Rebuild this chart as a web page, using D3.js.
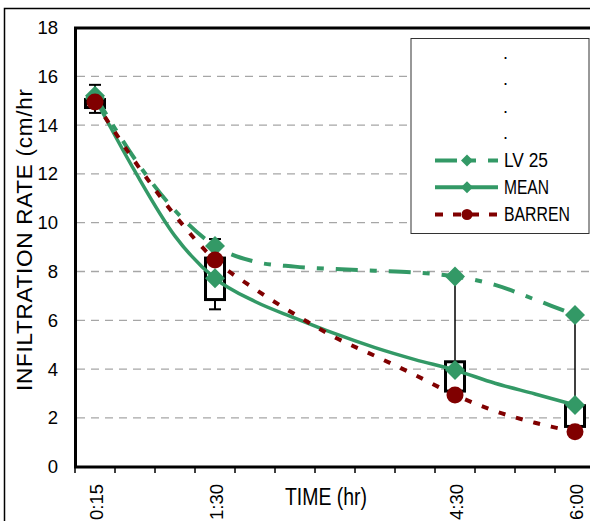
<!DOCTYPE html>
<html lang="en">
<head>
<meta charset="UTF-8">
<title>Infiltration rate</title>
<script src="https://d3js.org/d3.v7.min.js"></script>
<style>
    body { margin: 0; background: #fff; }
    text { font-family: "Liberation Sans", Arial, sans-serif; fill: #000; }
</style>
</head>
<body>
<svg id="chart"></svg>
<script>
    const width = 590;
    const height = 521;

    // categories (half-hour steps, only some are labelled)
    const categories = ["0:15", "", "", "1:30", "", "", "", "", "", "4:30", "", "", "6:00"];
    const lv25 = [15.2, 12.6, 10.5, 9.05, 8.4, 8.2, 8.1, 8.03, 7.96, 7.8, 7.45, 6.85, 6.22];
    const mean = [15.1, 12.1, 9.45, 7.72, 6.77, 6.09, 5.45, 4.88, 4.39, 3.96, 3.42, 2.98, 2.53];
    const barren = [14.95, 12.5, 10.3, 8.47, 7.28, 6.24, 5.3, 4.54, 3.76, 2.94, 2.28, 1.8, 1.43];

    // where markers, boxes and whiskers are drawn
    const markIdx = [0, 3, 9, 12];
    const boxLow = [14.72, 6.85, 3.1, 1.65];
    const boxHigh = [15.05, 8.55, 4.3, 2.5];
    const whiskLow = [14.5, 6.45, 3.1, 1.65];
    const whiskHigh = [15.65, 9.33, 7.8, 6.22];
    const whiskCap = [true, true, false, false];

    const yTicks = [0, 2, 4, 6, 8, 10, 12, 14, 16, 18];
    const seriesNames = ["LV 25", "MEAN", "BARREN"];

    const green = "#339966";
    const red = "#800000";

    const svg = d3.select('#chart')
        .attr('width', width)
        .attr('height', height);

    // outer frame
    svg.append('rect')
        .attr('x', 4.5).attr('y', 8.5)
        .attr('width', 620).attr('height', 600)
        .attr('fill', 'none').attr('stroke', '#000').attr('stroke-width', 1.5);

    const x = d3.scaleBand()
        .domain(d3.range(categories.length))
        .range([75, 595])
        .padding(0);
    const cx = i => x(i) + x.bandwidth() / 2;

    const y = d3.scaleLinear()
        .domain([0, 18])
        .range([466.7, 27.5]);

    // gridlines
    svg.append('g')
        .selectAll('line')
        .data(yTicks.filter(d => d > 0 && d < 18))
        .join('line')
        .attr('x1', 77).attr('x2', 595)
        .attr('y1', d => y(d)).attr('y2', d => y(d))
        .attr('stroke', '#a6a6a6')
        .attr('stroke-width', 1.3)
        .attr('stroke-dasharray', '8,6');

    // y tick labels
    svg.append('g')
        .selectAll('text')
        .data(yTicks)
        .join('text')
        .attr('x', 58)
        .attr('y', d => y(d))
        .attr('text-anchor', 'end')
        .attr('dominant-baseline', 'central')
        .attr('font-size', 18.5)
        .text(d => d);

    // x tick marks at category boundaries
    svg.append('g')
        .selectAll('line')
        .data(d3.range(categories.length + 1))
        .join('line')
        .attr('x1', i => 75 + i * x.bandwidth())
        .attr('x2', i => 75 + i * x.bandwidth())
        .attr('y1', 467).attr('y2', 473)
        .attr('stroke', '#000').attr('stroke-width', 1.5);

    // x tick labels (rotated)
    svg.append('g')
        .selectAll('text')
        .data(d3.range(categories.length).filter(i => categories[i] !== ""))
        .join('text')
        .attr('transform', i => `translate(${cx(i) + 1},484) rotate(-90)`)
        .attr('text-anchor', 'end')
        .attr('dominant-baseline', 'central')
        .attr('font-size', 18.5)
        .text(i => categories[i]);

    // axis titles
    svg.append('text')
        .attr('x', 285).attr('y', 505)
        .attr('font-size', 23)
        .attr('textLength', 82)
        .attr('lengthAdjust', 'spacingAndGlyphs')
        .text('TIME (hr)');

    svg.append('text')
        .attr('transform', 'translate(31.5,240) rotate(-90)')
        .attr('text-anchor', 'middle')
        .attr('font-size', 22.5)
        .attr('textLength', 302)
        .attr('lengthAdjust', 'spacing')
        .text('INFILTRATION RATE (cm/hr');

    // whiskers
    const gw = svg.append('g');
    markIdx.forEach((idx, k) => {
        gw.append('line')
            .attr('x1', cx(idx)).attr('x2', cx(idx))
            .attr('y1', y(whiskHigh[k])).attr('y2', y(whiskLow[k]))
            .attr('stroke', '#000').attr('stroke-width', whiskCap[k] ? 2 : 1.5);
        if (whiskCap[k]) {
            [whiskHigh[k], whiskLow[k]].forEach(v => {
                gw.append('line')
                    .attr('x1', cx(idx) - 6).attr('x2', cx(idx) + 6)
                    .attr('y1', y(v)).attr('y2', y(v))
                    .attr('stroke', '#000').attr('stroke-width', 2);
            });
        }
    });

    // boxes
    svg.append('g')
        .selectAll('rect')
        .data(markIdx)
        .join('rect')
        .attr('x', i => cx(i) - 9.5)
        .attr('width', 19)
        .attr('y', (i, k) => y(boxHigh[k]))
        .attr('height', (i, k) => y(boxLow[k]) - y(boxHigh[k]))
        .attr('fill', '#fff')
        .attr('stroke', '#000')
        .attr('stroke-width', 3);

    // lines
    const line = d3.line()
        .x((d, i) => cx(i))
        .y(d => y(d))
        .curve(d3.curveCatmullRom.alpha(0));

    svg.append('path').datum(lv25)
        .attr('d', line)
        .attr('fill', 'none').attr('stroke', green).attr('stroke-width', 4)
        .attr('stroke-dasharray', '22,12,7,12');

    svg.append('path').datum(mean)
        .attr('d', line)
        .attr('fill', 'none').attr('stroke', green).attr('stroke-width', 3.5);

    svg.append('path').datum(barren)
        .attr('d', line)
        .attr('fill', 'none').attr('stroke', red).attr('stroke-width', 4)
        .attr('stroke-dasharray', '7,11');

    // markers
    const diamond = (px, py, r) => `M${px},${py - r}L${px + r},${py}L${px},${py + r}L${px - r},${py}Z`;

    svg.append('g').selectAll('path')
        .data(markIdx)
        .join('path')
        .attr('d', i => diamond(cx(i), y(lv25[i]), 10))
        .attr('fill', green);

    svg.append('g').selectAll('path')
        .data(markIdx)
        .join('path')
        .attr('d', i => diamond(cx(i), y(mean[i]), 10))
        .attr('fill', green);

    svg.append('g').selectAll('circle')
        .data(markIdx)
        .join('circle')
        .attr('cx', i => cx(i))
        .attr('cy', i => y(barren[i]))
        .attr('r', 8.5)
        .attr('fill', red);

    // plot area border
    svg.append('rect')
        .attr('x', 75.5).attr('y', 28)
        .attr('width', 540).attr('height', 439)
        .attr('fill', 'none').attr('stroke', '#000').attr('stroke-width', 3);

    // legend
    const legend = svg.append('g');
    legend.append('rect')
        .attr('x', 411).attr('y', 38.5)
        .attr('width', 178).attr('height', 195)
        .attr('fill', '#fff').attr('stroke', '#333').attr('stroke-width', 1);

    [56.7, 83.3, 110.7, 137.3].forEach(dy => {
        legend.append('text')
            .attr('x', 503).attr('y', dy + 2)
            .attr('font-size', 18)
            .text('.');
    });

    const legendY = [160.5, 187.3, 214.5];
    const styles = [
        { color: green, dash: '22,12,7,12', mark: 'diamond' },
        { color: green, dash: null, mark: 'diamond' },
        { color: red, dash: '8,10', mark: 'circle' }
    ];
    seriesNames.forEach((name, k) => {
        const ly = legendY[k];
        const st = styles[k];
        legend.append('line')
            .attr('x1', 435).attr('x2', 498)
            .attr('y1', ly).attr('y2', ly)
            .attr('stroke', st.color).attr('stroke-width', 4)
            .attr('stroke-dasharray', st.dash);
        if (st.mark === 'diamond') {
            legend.append('path')
                .attr('d', diamond(467, ly, 6))
                .attr('fill', st.color);
        } else {
            legend.append('circle')
                .attr('cx', 467).attr('cy', ly).attr('r', 5.5)
                .attr('fill', st.color);
        }
        legend.append('text')
            .attr('x', 504).attr('y', ly + 6.5)
            .attr('font-size', 19.5)
            .attr('textLength', [44, 45, 66][k])
            .attr('lengthAdjust', 'spacingAndGlyphs')
            .text(name);
    });
</script>
</body>
</html>
